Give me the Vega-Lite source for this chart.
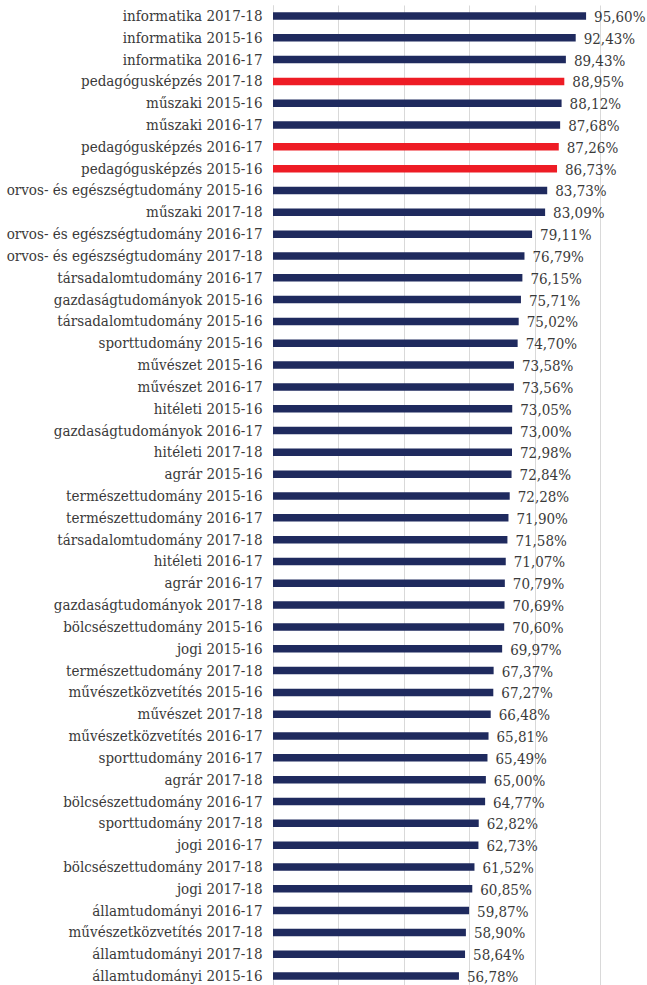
{
  "$schema": "https://vega.github.io/schema/vega-lite/v6.json",
  "autosize": "none",
  "padding": {"left": 273, "top": 5, "right": 0, "bottom": 0},
  "width": 374,
  "height": 982,
  "background": "white",
  "config": {
    "view": {"stroke": null},
    "locale": {"number": {"decimal": ",", "thousands": " ", "grouping": [3], "currency": ["", " Ft"]}},
    "font": "DejaVu Serif Condensed"
  },
  "data": {"values": [
    {"label": "informatika 2017-18", "value": 0.9560},
    {"label": "informatika 2015-16", "value": 0.9243},
    {"label": "informatika 2016-17", "value": 0.8943},
    {"label": "pedagógusképzés 2017-18", "value": 0.8895},
    {"label": "műszaki 2015-16", "value": 0.8812},
    {"label": "műszaki 2016-17", "value": 0.8768},
    {"label": "pedagógusképzés 2016-17", "value": 0.8726},
    {"label": "pedagógusképzés 2015-16", "value": 0.8673},
    {"label": "orvos- és egészségtudomány 2015-16", "value": 0.8373},
    {"label": "műszaki 2017-18", "value": 0.8309},
    {"label": "orvos- és egészségtudomány 2016-17", "value": 0.7911},
    {"label": "orvos- és egészségtudomány 2017-18", "value": 0.7679},
    {"label": "társadalomtudomány 2016-17", "value": 0.7615},
    {"label": "gazdaságtudományok 2015-16", "value": 0.7571},
    {"label": "társadalomtudomány 2015-16", "value": 0.7502},
    {"label": "sporttudomány 2015-16", "value": 0.7470},
    {"label": "művészet 2015-16", "value": 0.7358},
    {"label": "művészet 2016-17", "value": 0.7356},
    {"label": "hitéleti 2015-16", "value": 0.7305},
    {"label": "gazdaságtudományok 2016-17", "value": 0.7300},
    {"label": "hitéleti 2017-18", "value": 0.7298},
    {"label": "agrár 2015-16", "value": 0.7284},
    {"label": "természettudomány 2015-16", "value": 0.7228},
    {"label": "természettudomány 2016-17", "value": 0.7190},
    {"label": "társadalomtudomány 2017-18", "value": 0.7158},
    {"label": "hitéleti 2016-17", "value": 0.7107},
    {"label": "agrár 2016-17", "value": 0.7079},
    {"label": "gazdaságtudományok 2017-18", "value": 0.7069},
    {"label": "bölcsészettudomány 2015-16", "value": 0.7060},
    {"label": "jogi 2015-16", "value": 0.6997},
    {"label": "természettudomány 2017-18", "value": 0.6737},
    {"label": "művészetközvetítés 2015-16", "value": 0.6727},
    {"label": "művészet 2017-18", "value": 0.6648},
    {"label": "művészetközvetítés 2016-17", "value": 0.6581},
    {"label": "sporttudomány 2016-17", "value": 0.6549},
    {"label": "agrár 2017-18", "value": 0.6500},
    {"label": "bölcsészettudomány 2016-17", "value": 0.6477},
    {"label": "sporttudomány 2017-18", "value": 0.6282},
    {"label": "jogi 2016-17", "value": 0.6273},
    {"label": "bölcsészettudomány 2017-18", "value": 0.6152},
    {"label": "jogi 2017-18", "value": 0.6085},
    {"label": "államtudományi 2016-17", "value": 0.5987},
    {"label": "művészetközvetítés 2017-18", "value": 0.5890},
    {"label": "államtudományi 2017-18", "value": 0.5864},
    {"label": "államtudományi 2015-16", "value": 0.5678}
  ]},
  "encoding": {
    "y": {
      "field": "label", "type": "nominal", "sort": null, "title": null,
      "axis": {
        "ticks": false, "domain": true, "domainColor": "#d9d9d9", "domainWidth": 1,
        "labelFont": "DejaVu Serif Condensed", "labelFontSize": 15, "labelColor": "#3a3a3a",
        "labelPadding": 11, "labelLimit": 300
      }
    },
    "x": {
      "field": "value", "type": "quantitative",
      "scale": {"domain": [0, 1.142], "nice": false, "zero": true},
      "axis": {
        "values": [0, 0.2, 0.4, 0.6, 0.8, 1.0],
        "grid": true, "gridColor": "#d9d9d9", "gridWidth": 1,
        "labels": false, "ticks": false, "domain": false, "title": null
      }
    }
  },
  "layer": [
    {
      "mark": {"type": "bar", "size": 7.5},
      "encoding": {
        "color": {
          "condition": {"test": "indexof(datum.label, 'pedagógusképzés') >= 0", "value": "#ee1c25"},
          "value": "#1f2a5e"
        }
      }
    },
    {
      "mark": {"type": "text", "align": "left", "baseline": "middle", "dx": 8, "dy": 1, "font": "DejaVu Serif Condensed", "fontSize": 15, "color": "#3a3a3a"},
      "encoding": {
        "text": {"field": "value", "type": "quantitative", "format": ".2%"}
      }
    }
  ]
}
